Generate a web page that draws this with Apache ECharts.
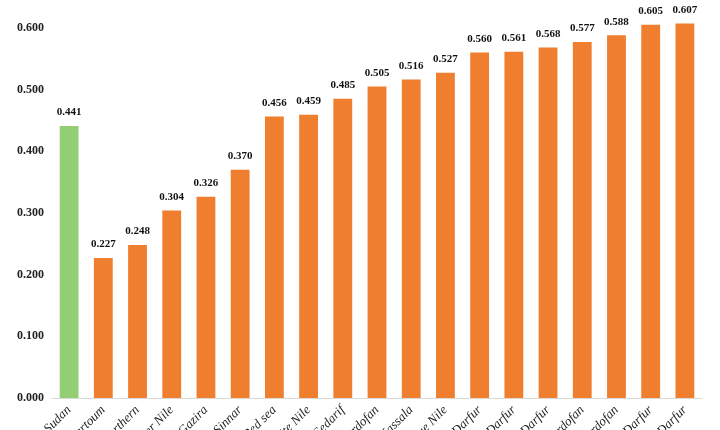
<!DOCTYPE html>
<html><head><meta charset="utf-8">
<script src="https://cdn.jsdelivr.net/npm/echarts@6/dist/echarts.min.js"></script>
<style>html,body{margin:0;background:#fff}#c{width:720px;height:430px}</style>
</head><body><div id="c"></div>
<script>
const states = ['Sudan','Khartoum','Northern','River Nile','Gazira','Sinnar','Red sea','White Nile','Gedarif','North Kordofan','Kassala','Blue Nile','North Darfur','South Darfur','West Darfur','South Kordofan','West Kordofan','Central Darfur','East Darfur'];
const values = [0.441,0.227,0.248,0.304,0.326,0.370,0.456,0.459,0.485,0.505,0.516,0.527,0.560,0.561,0.568,0.577,0.588,0.605,0.607];

const chart = echarts.init(document.getElementById('c'));
chart.setOption({
  animation: false,
  grid: {left: 52, right: 18, top: 0, bottom: 32, containLabel: false, outerBoundsMode: 'none'},
  xAxis: {
    type: 'category', data: states,
    axisTick: {show: false},
    axisLine: {lineStyle: {color: '#d9d9d9'}},
    axisLabel: {rotate: 45, interval: 0, margin: 10, color: '#222',
      fontFamily: 'Liberation Serif', fontStyle: 'italic', fontSize: 13}
  },
  yAxis: {
    type: 'value', min: 0, max: 0.645, interval: 0.1,
    splitLine: {show: false},
    axisLabel: {showMaxLabel: false, color: '#222', fontFamily: 'Liberation Serif',
      fontWeight: 'bold', fontSize: 12, formatter: v => v.toFixed(3)}
  },
  series: [{
    type: 'bar', barWidth: '55%',
    data: values.map((v, i) => ({value: v, itemStyle: {color: i === 0 ? '#92cf74' : '#ef7e2f'}})),
    label: {show: true, position: 'top', distance: 8, color: '#111',
      fontFamily: 'Liberation Serif', fontWeight: 'bold', fontSize: 11,
      formatter: p => p.value.toFixed(3)}
  }]
});
</script></body></html>
